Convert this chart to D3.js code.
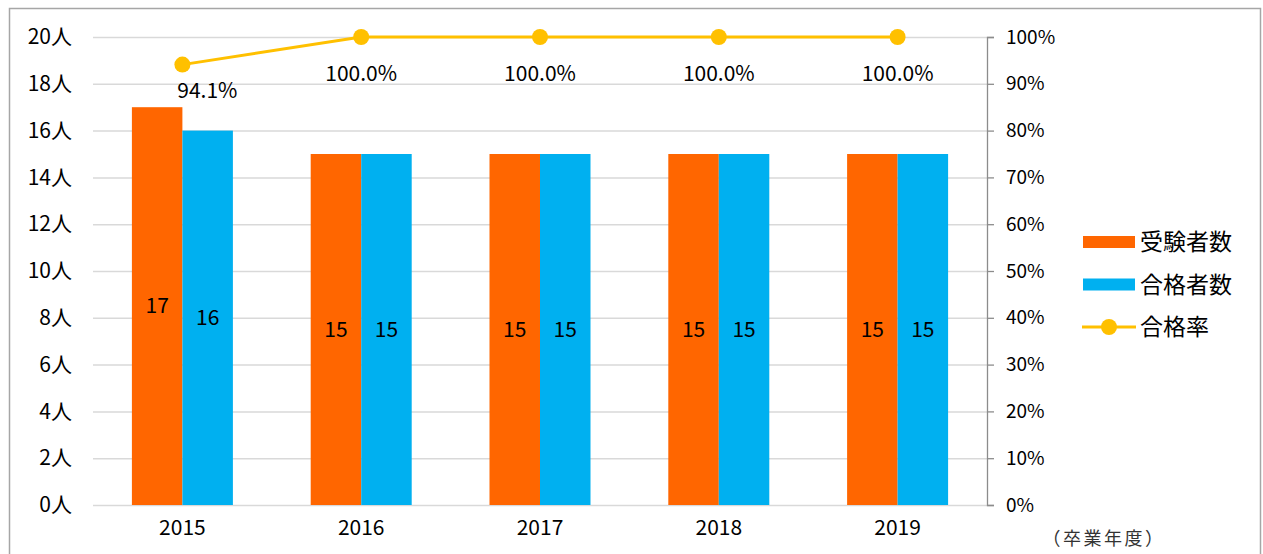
<!DOCTYPE html>
<html>
<head>
<meta charset="utf-8">
<script src="https://cdn.jsdelivr.net/npm/d3@7"></script>
<style>
  body { margin: 0; background: #fff; }
  svg { font-family: "Noto Sans CJK JP", "Noto Sans", sans-serif; }
</style>
</head>
<body>
<svg id="chart" width="1263" height="554"></svg>
<script>
const years = ['2015', '2016', '2017', '2018', '2019'];
const examinees = [17, 15, 15, 15, 15];
const passers = [16, 15, 15, 15, 15];
const passRate = [94.1, 100, 100, 100, 100];
const leftTicks = [0, 2, 4, 6, 8, 10, 12, 14, 16, 18, 20];
const rightTicks = [0, 10, 20, 30, 40, 50, 60, 70, 80, 90, 100];

const colors = { exam: '#FF6600', pass: '#00B0F0', rate: '#FFC000' };

const svg = d3.select('#chart');
const margin = { top: 37, right: 276, bottom: 49, left: 93 };
const width = 1263 - margin.left - margin.right;
const height = 554 - margin.top - margin.bottom;

// outer frame
svg.append('rect')
  .attr('x', 9.5).attr('y', 8.5)
  .attr('width', 1251).attr('height', 560)
  .attr('fill', 'none').attr('stroke', '#a6a6a6').attr('stroke-width', 1.5);

const g = svg.append('g').attr('transform', `translate(${margin.left},${margin.top})`);

const x = d3.scaleBand().domain(years).range([0, width]);
const barW = 50.5;
const y = d3.scaleLinear().domain([0, 20]).range([height, 0]);
const yR = d3.scaleLinear().domain([0, 100]).range([height, 0]);

// gridlines
g.append('g').selectAll('line')
  .data(leftTicks)
  .join('line')
  .attr('x1', 0).attr('x2', width)
  .attr('y1', d => y(d) + 0.5).attr('y2', d => y(d) + 0.5)
  .attr('stroke', '#d9d9d9').attr('stroke-width', 1.5);

// left axis
const leftAxis = g.append('g')
  .call(d3.axisLeft(y).tickValues(leftTicks).tickSize(0).tickPadding(21).tickFormat(d => d + '人'));
leftAxis.select('.domain').remove();
leftAxis.selectAll('text').attr('font-size', 21).attr('font-family', '"Noto Sans CJK JP"').attr('fill', '#000');

// right axis
const rightAxis = g.append('g')
  .attr('transform', `translate(${width},0)`)
  .call(d3.axisRight(yR).tickValues(rightTicks).tickSize(7).tickPadding(12).tickSizeOuter(7).tickFormat(d => d + '%'));
rightAxis.select('.domain').attr('stroke', '#8c8c8c').attr('stroke-width', 1.3);
rightAxis.selectAll('line').attr('stroke', '#8c8c8c').attr('stroke-width', 1.3);
rightAxis.selectAll('text').attr('font-size', 19).attr('font-family', '"Noto Sans CJK JP"').attr('fill', '#000');

// bottom axis labels
const bottomAxis = g.append('g')
  .attr('transform', `translate(0,${height})`)
  .call(d3.axisBottom(x).tickSize(0).tickPadding(15));
bottomAxis.select('.domain').remove();
bottomAxis.selectAll('text').attr('font-size', 21).attr('font-family', '"Noto Sans CJK JP"').attr('fill', '#000');

// bars
const center = d => x(d) + x.bandwidth() / 2;
g.append('g').selectAll('rect')
  .data(years)
  .join('rect')
  .attr('x', d => center(d) - barW)
  .attr('y', (d, i) => y(examinees[i]))
  .attr('width', barW)
  .attr('height', (d, i) => height - y(examinees[i]))
  .attr('fill', colors.exam);

g.append('g').selectAll('rect')
  .data(years)
  .join('rect')
  .attr('x', d => center(d))
  .attr('y', (d, i) => y(passers[i]))
  .attr('width', barW)
  .attr('height', (d, i) => height - y(passers[i]))
  .attr('fill', colors.pass);

// bar value labels
g.append('g').selectAll('text')
  .data(years)
  .join('text')
  .attr('x', d => center(d) - barW / 2)
  .attr('y', (d, i) => y(examinees[i] / 2))
  .attr('dy', '0.35em')
  .attr('text-anchor', 'middle')
  .attr('font-size', 21)
  .text((d, i) => examinees[i]);

g.append('g').selectAll('text')
  .data(years)
  .join('text')
  .attr('x', d => center(d) + barW / 2)
  .attr('y', (d, i) => y(passers[i] / 2))
  .attr('dy', '0.35em')
  .attr('text-anchor', 'middle')
  .attr('font-size', 21)
  .text((d, i) => passers[i]);

// pass rate line
const line = d3.line()
  .x(d => center(d))
  .y((d, i) => yR(passRate[i]));
g.append('path')
  .datum(years)
  .attr('d', line)
  .attr('fill', 'none')
  .attr('stroke', colors.rate)
  .attr('stroke-width', 3);

g.append('g').selectAll('circle')
  .data(years)
  .join('circle')
  .attr('cx', d => center(d))
  .attr('cy', (d, i) => yR(passRate[i]))
  .attr('r', 8)
  .attr('fill', colors.rate);

// first label is nudged right so it clears the rising line
g.append('g').selectAll('text')
  .data(years)
  .join('text')
  .attr('x', (d, i) => center(d) + (i === 0 ? 25 : 0))
  .attr('y', (d, i) => yR(passRate[i]) + (i === 0 ? 26 : 37))
  .attr('dy', '0.35em')
  .attr('text-anchor', 'middle')
  .attr('font-size', 21)
  .text((d, i) => passRate[i].toFixed(1) + '%');

// legend
const legend = svg.append('g').attr('transform', 'translate(1083,242)');
const items = [
  { label: '受験者数', type: 'bar', color: colors.exam },
  { label: '合格者数', type: 'bar', color: colors.pass },
  { label: '合格率', type: 'line', color: colors.rate }
];
items.forEach((it, i) => {
  const row = legend.append('g').attr('transform', `translate(0,${i * 42.5})`);
  if (it.type === 'bar') {
    row.append('rect').attr('x', 0).attr('y', -6).attr('width', 52).attr('height', 12).attr('fill', it.color);
  } else {
    row.append('line').attr('x1', -1).attr('x2', 53).attr('y1', 0).attr('y2', 0)
      .attr('stroke', it.color).attr('stroke-width', 3);
    row.append('circle').attr('cx', 26).attr('cy', 0).attr('r', 8).attr('fill', it.color);
  }
  row.append('text')
    .attr('x', 57).attr('y', 0).attr('dy', '0.35em')
    .attr('font-size', 23)
    .text(it.label);
});

// x axis title
svg.append('text')
  .attr('x', 1104).attr('y', 539)
  .attr('dy', '0.35em')
  .attr('text-anchor', 'middle')
  .attr('font-size', 18)
  .attr('letter-spacing', 2.5)
  .attr('fill', '#333')
  .text('（卒業年度）');
</script>
</body>
</html>
